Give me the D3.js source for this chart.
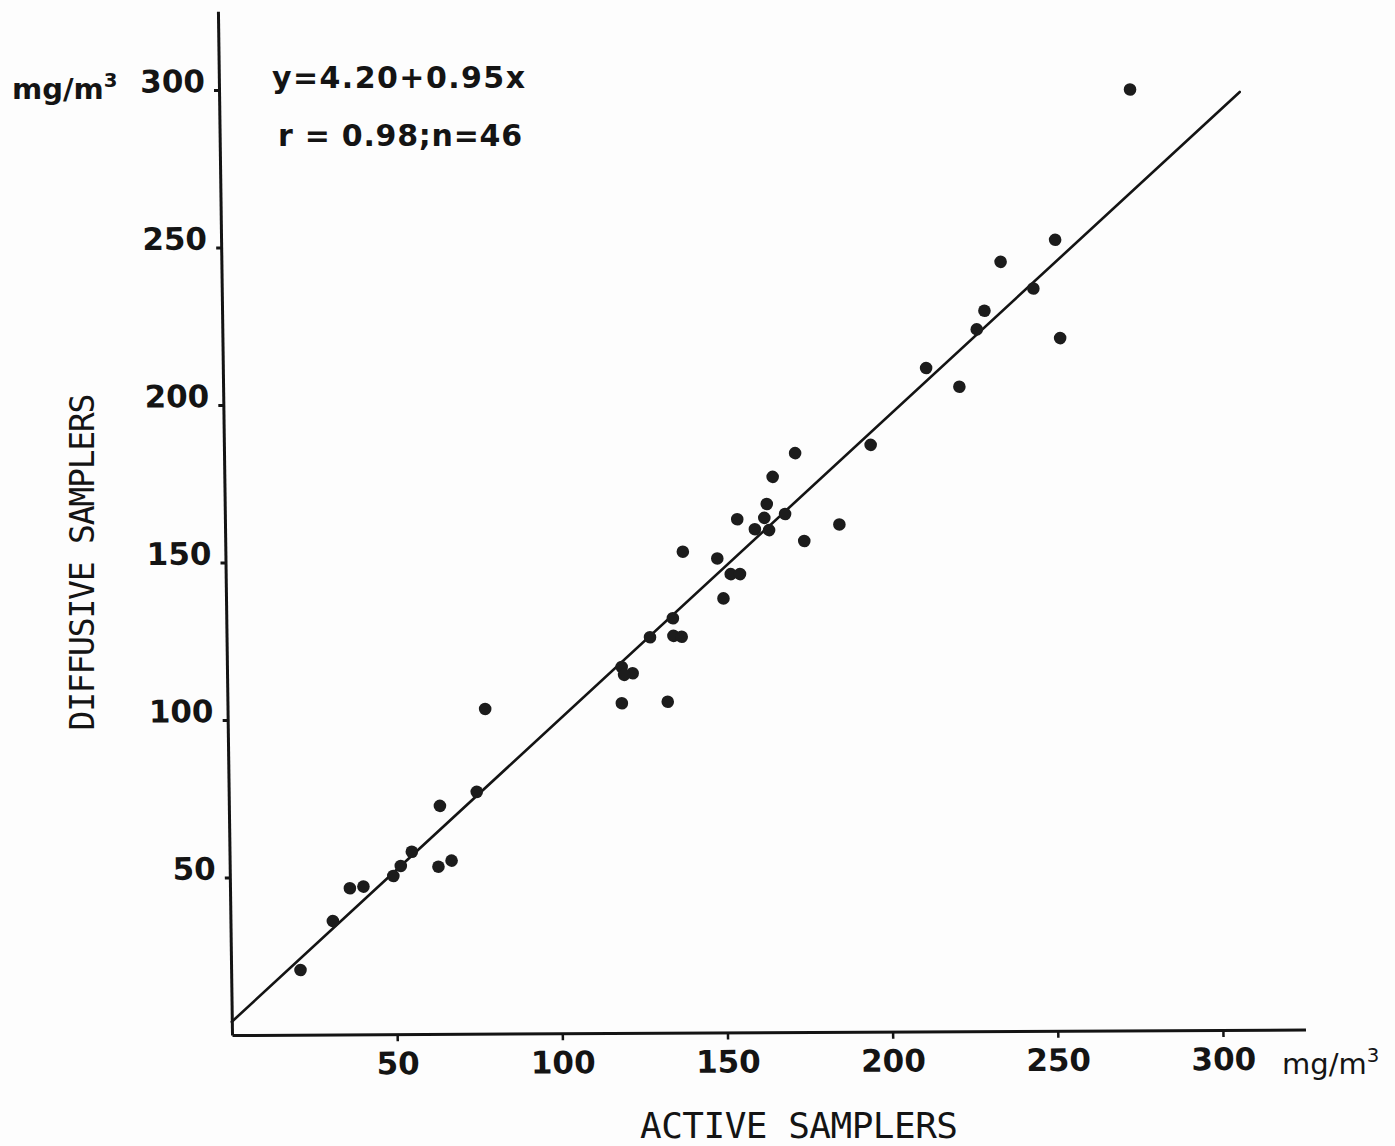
<!DOCTYPE html>
<html>
<head>
<meta charset="utf-8">
<script src="https://cdn.jsdelivr.net/npm/d3@7"></script>
<style>
  body { margin: 0; background: #fdfdfd; }
</style>
</head>
<body>
<svg id="chart" width="1395" height="1146"></svg>
<script>
// values (mg/m3)
const activeSamplers = [
  21, 31, 36.3, 40.4, 49.5, 51.8, 55.2, 63.2, 67.2, 63.9, 75.1, 78,
  138.5, 135.2, 128.2, 135.3, 137.8, 119.5, 122.8, 120.2, 119.4, 133.3,
  172.9, 166, 164.1, 163.3, 155.1, 169.6, 160.4, 164.7, 186, 175.3,
  148.9, 152.9, 155.7, 150.6, 195.8,
  275.8, 252.5, 235.9, 245.7, 230.8, 228.4, 253.6, 212.9, 222.9
];
const diffusiveSamplers = [
  20.5, 36, 46.4, 46.9, 50.2, 53.4, 57.9, 53.1, 55, 72.4, 76.8, 103.1,
  152.7, 131.6, 125.6, 126, 125.7, 116.2, 114.2, 113.7, 104.7, 105.1,
  183.8, 176.3, 167.7, 163.3, 162.9, 164.5, 159.7, 159.4, 161.1, 155.9,
  150.5, 145.5, 145.5, 137.8, 186.3,
  298.7, 251.1, 244.2, 235.7, 228.7, 222.8, 219.9, 210.6, 204.6
];
const xTicks = [50, 100, 150, 200, 250, 300];
const yTicks = [50, 100, 150, 200, 250, 300];
const axisMax = 325;
const fitIntercept = 4.2;
const fitSlope = 0.95;
const fitXRange = [0, 309];

const svg = d3.select("svg#chart");
const ink = "#141414";

// the scan is slightly skewed, so the plot frame gets a small shear
const plot = svg
  .append("g")
  .attr("transform", "matrix(1,-0.00505,0.01375,1,232,1035)");

const x = d3.scaleLinear().domain([0, axisMax]).range([0, axisMax * 3.303]);
const y = d3.scaleLinear().domain([0, axisMax]).range([0, -axisMax * 3.15]);

// x axis
let xAxis = plot
  .append("g")
  .call(
    d3.axisBottom(x).tickValues(xTicks).tickSize(7).tickSizeOuter(0).tickPadding(11)
  );
xAxis.select(".domain").attr("stroke", ink).attr("stroke-width", 3);
xAxis.selectAll(".tick line").attr("stroke", ink).attr("stroke-width", 2.5);
xAxis
  .selectAll(".tick text")
  .attr("fill", ink)
  .style("font-family", "DejaVu Sans")
  .style("font-weight", "bold")
  .style("font-size", "31px");

// y axis
let yAxis = plot
  .append("g")
  .call(
    d3.axisLeft(y).tickValues(yTicks).tickSize(5).tickSizeOuter(0).tickPadding(9)
  );
yAxis.select(".domain").attr("stroke", ink).attr("stroke-width", 3);
yAxis.selectAll(".tick line").attr("stroke", ink).attr("stroke-width", 3);
yAxis
  .selectAll(".tick text")
  .attr("fill", ink)
  .attr("dy", "0.05em")
  .style("font-family", "DejaVu Sans")
  .style("font-weight", "bold")
  .style("font-size", "31px");

// regression line
plot
  .append("line")
  .attr("x1", x(fitXRange[0]))
  .attr("y1", y(fitIntercept + fitSlope * fitXRange[0]))
  .attr("x2", x(fitXRange[1]))
  .attr("y2", y(fitIntercept + fitSlope * fitXRange[1]))
  .attr("stroke", ink)
  .attr("stroke-width", 2.6)
  .attr("stroke-linecap", "round");

// samples
const points = activeSamplers.map((a, i) => ({ a: a, d: diffusiveSamplers[i] }));
plot
  .selectAll("circle.sample")
  .data(points)
  .join("circle")
  .attr("class", "sample")
  .attr("cx", (p) => x(p.a))
  .attr("cy", (p) => y(p.d))
  .attr("r", 6.3)
  .attr("fill", "#1c1c1c");

// units next to the axes: "mg/m" with a raised 3
function unitText(xPos, yPos, size, weight) {
  let t = svg
    .append("text")
    .attr("x", xPos)
    .attr("y", yPos)
    .attr("fill", ink)
    .style("font-family", "DejaVu Sans")
    .style("font-weight", weight)
    .style("font-size", size + "px");
  t.append("tspan").text("mg/m");
  t.append("tspan")
    .text("3")
    .attr("dy", -size * 0.42)
    .style("font-size", size * 0.68 + "px");
  return t;
}
unitText(12, 99, 29, "600");
unitText(1282, 1074, 29, "normal");

// regression equation
svg
  .append("text")
  .text("y=4.20+0.95x")
  .attr("x", 272)
  .attr("y", 88)
  .attr("textLength", 253)
  .attr("fill", ink)
  .style("font-family", "DejaVu Sans")
  .style("font-weight", "bold")
  .style("font-size", "30px");
svg
  .append("text")
  .text("r = 0.98;n=46")
  .attr("x", 278)
  .attr("y", 146)
  .attr("textLength", 244)
  .attr("fill", ink)
  .style("font-family", "DejaVu Sans")
  .style("font-weight", "bold")
  .style("font-size", "30px");

// axis titles
svg
  .append("text")
  .text("ACTIVE SAMPLERS")
  .attr("x", 799)
  .attr("y", 1138)
  .attr("text-anchor", "middle")
  .attr("textLength", 318)
  .attr("fill", ink)
  .style("font-family", "DejaVu Sans Mono")
  .style("font-size", "36px");
svg
  .append("text")
  .text("DIFFUSIVE SAMPLERS")
  .attr("transform", "translate(94,562) rotate(-90)")
  .attr("text-anchor", "middle")
  .attr("textLength", 337)
  .attr("fill", ink)
  .style("font-family", "DejaVu Sans Mono")
  .style("font-size", "33px");
</script>
</body>
</html>
